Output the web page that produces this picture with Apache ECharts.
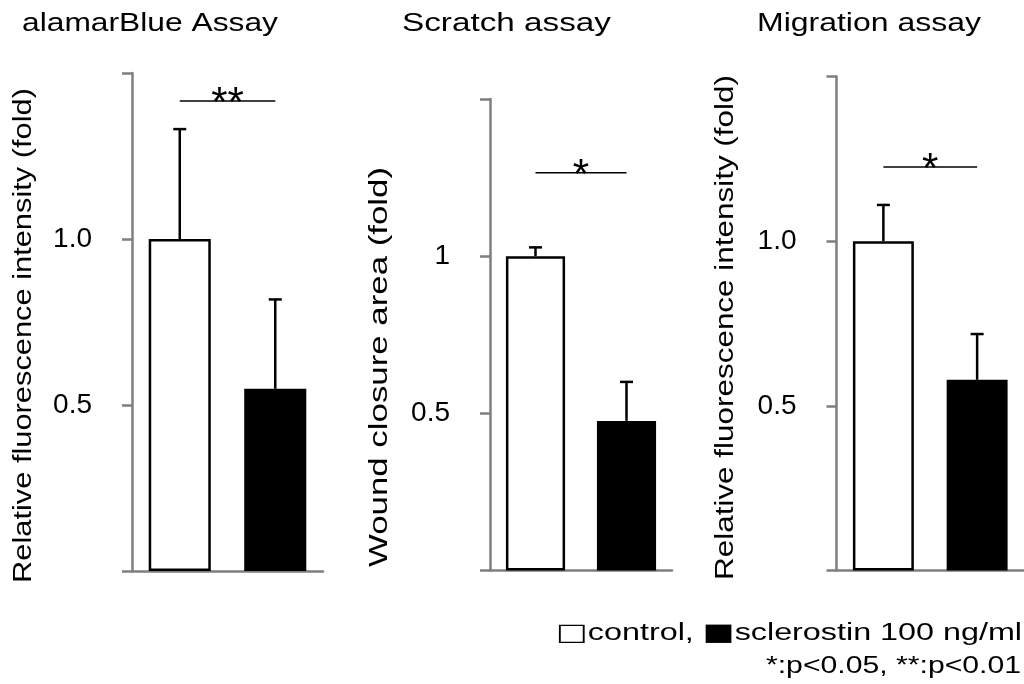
<!DOCTYPE html>
<html>
<head>
<meta charset="utf-8">
<script src="https://cdn.jsdelivr.net/npm/echarts@6/dist/echarts.min.js"></script>
<style>
html,body{margin:0;padding:0;background:#fff;}
#chart{width:1024px;height:684px;}
</style>
</head>
<body>
<div id="chart"></div>
<script>
// ---------------- data ----------------
const categories = ['control', 'sclerostin 100 ng/ml'];
const panelTitles = ['alamarBlue Assay', 'Scratch assay', 'Migration assay'];
const yAxisNames = ['Relative fluorescence intensity (fold)', 'Wound closure area (fold)', 'Relative fluorescence intensity (fold)'];
const controlMeans = [1.0, 1.0, 1.0];
const sclerostinMeans = [0.549, 0.476, 0.579];
const controlErr = [0.331, 0.028, 0.110];
const sclerostinErr = [0.269, 0.124, 0.139];
const sigLevels = [1.416, 1.265, 1.225];
const sigMarks = ['**', '*', '*'];
const yTickValues = [0, 0.5, 1.0, 1.5];
const yTickLabels = [['', '0.5', '1.0', ''], ['', '0.5', '1', ''], ['', '0.5', '1.0', '']];
const legendSymbols = ['\u25A1', '\u25A0'];
const legendNames = ['control, ', 'sclerostin 100 ng/ml'];
const pValueNote = '*:p<0.05, **:p<0.01';

// ---------------- layout / style ----------------
const FONT = "'Liberation Sans', Arial, 'Noto Sans CJK JP', sans-serif";
const SQ_FONT = "24px 'DejaVu Sans', 'Noto Sans CJK JP', sans-serif";
const AXIS_GRAY = '#7f7f7f';
const grids = [
  {left: 132, top: 73, width: 191, height: 498},
  {left: 490, top: 99, width: 182, height: 471.5},
  {left: 836.5, top: 76.5, width: 190.5, height: 494}
];
const titleLayout = [{x: 150, y: 24, len: 256}, {x: 506.5, y: 24, len: 209}, {x: 869, y: 24, len: 224}];
const nameLayout = [{x: 24, y: 335.5, len: 495}, {x: 380, y: 367, len: 400}, {x: 726, y: 327.5, len: 505}];
const legendLayout = [{x: 1022, y: 634, len: 466}, {x: 1021, y: 667, len: 255}];

const mctx = document.createElement('canvas').getContext('2d');
function measure(text, font) { mctx.font = font; return mctx.measureText(text).width; }

const chart = echarts.init(document.getElementById('chart'), null, {renderer: 'canvas'});

const xAxes = [], yAxes = [], series = [], graphics = [];
for (let i = 0; i < 3; i++) {
  xAxes.push({
    type: 'category', gridIndex: i, data: categories,
    axisLine: {show: true, lineStyle: {color: AXIS_GRAY, width: 2.5}},
    axisTick: {show: false}, axisLabel: {show: false}
  });
  yAxes.push({
    type: 'value', gridIndex: i, min: 0, max: 1.5, interval: 0.5,
    splitLine: {show: false},
    axisLine: {show: true, lineStyle: {color: AXIS_GRAY, width: 2.5}},
    axisTick: {show: true, length: 10, lineStyle: {color: AXIS_GRAY, width: 2.5}},
    axisLabel: {
      margin: 40, color: '#000', fontSize: 28, fontFamily: FONT,
      formatter: (v) => { const k = yTickValues.findIndex(t => Math.abs(t - v) < 1e-6); return k >= 0 ? yTickLabels[i][k] : ''; }
    }
  });
  series.push({
    type: 'bar', xAxisIndex: i, yAxisIndex: i, barWidth: '65%', silent: true, z: 2,
    data: [
      {value: controlMeans[i], itemStyle: {color: '#fff', borderColor: '#000', borderWidth: 2.5}},
      {value: sclerostinMeans[i], itemStyle: {color: '#000', borderColor: '#000', borderWidth: 0}}
    ]
  });
  series.push({
    type: 'custom', xAxisIndex: i, yAxisIndex: i, silent: true, z: 3,
    encode: {x: 0, y: [1, 2]},
    data: [[0, controlMeans[i], controlMeans[i] + controlErr[i]], [1, sclerostinMeans[i], sclerostinMeans[i] + sclerostinErr[i]]],
    renderItem: (params, api) => {
      const p0 = api.coord([api.value(0), api.value(1)]);
      const p1 = api.coord([api.value(0), api.value(2)]);
      return {type: 'group', children: [
        {type: 'line', shape: {x1: p0[0], y1: p0[1], x2: p1[0], y2: p1[1]}, style: {stroke: '#000', lineWidth: 2.5}},
        {type: 'line', shape: {x1: p1[0] - 6.5, y1: p1[1], x2: p1[0] + 6.5, y2: p1[1]}, style: {stroke: '#000', lineWidth: 2.5}}
      ]};
    }
  });
  series.push({
    type: 'custom', xAxisIndex: i, yAxisIndex: i, silent: true, z: 4,
    encode: {x: 0, y: 1},
    data: [[0, sigLevels[i], 1]],
    renderItem: (params, api) => {
      const p0 = api.coord([api.value(0), api.value(1)]);
      const p1 = api.coord([api.value(2), api.value(1)]);
      return {type: 'group', children: [
        {type: 'line', shape: {x1: p0[0], y1: p0[1], x2: p1[0], y2: p1[1]}, style: {stroke: '#000', lineWidth: 1.5}},
        {type: 'text', x: (p0[0] + p1[0]) / 2, y: p0[1] + 3.5,
          style: {text: sigMarks[i], font: "42px " + FONT, fill: '#000', align: 'center', verticalAlign: 'middle', textAlign: 'center', textVerticalAlign: 'middle'}}
      ]};
    }
  });

  const tFont = "26px " + FONT;
  const nFont = "25px " + FONT;
  graphics.push({type: 'text', x: titleLayout[i].x, y: titleLayout[i].y,
    scaleX: titleLayout[i].len / measure(panelTitles[i], tFont),
    style: {text: panelTitles[i], font: tFont, fill: '#000', align: 'center', verticalAlign: 'middle', textAlign: 'center', textVerticalAlign: 'middle'}});
  graphics.push({type: 'text', x: nameLayout[i].x, y: nameLayout[i].y, rotation: Math.PI / 2,
    scaleX: nameLayout[i].len / measure(yAxisNames[i], nFont),
    style: {text: yAxisNames[i], font: nFont, fill: '#000', align: 'center', verticalAlign: 'middle', textAlign: 'center', textVerticalAlign: 'middle'}});
}
const lFont = "23px " + FONT;
// legend line 1 (rich text: square symbols + names)
const legendRich = legendSymbols.map((s, k) => '{sq|' + s + '}' + legendNames[k]).join('');
const legendPlainW = legendSymbols.reduce((w, s, k) => w + measure(s, SQ_FONT) + measure(legendNames[k], lFont), 0);
graphics.push({type: 'text', x: legendLayout[0].x, y: legendLayout[0].y,
  scaleX: legendLayout[0].len / legendPlainW,
  style: {text: legendRich, font: lFont, fill: '#000', align: 'right', verticalAlign: 'middle', textAlign: 'right', textVerticalAlign: 'middle',
    rich: {sq: {font: SQ_FONT, fill: '#000', verticalAlign: 'middle'}}}});
graphics.push({type: 'text', x: legendLayout[1].x, y: legendLayout[1].y,
  scaleX: legendLayout[1].len / measure(pValueNote, lFont),
  style: {text: pValueNote, font: lFont, fill: '#000', align: 'right', verticalAlign: 'middle', textAlign: 'right', textVerticalAlign: 'middle'}});

chart.setOption({
  backgroundColor: '#fff',
  animation: false,
  grid: grids.map(g => Object.assign({containLabel: false}, g)),
  xAxis: xAxes,
  yAxis: yAxes,
  series: series,
  graphic: graphics
});
</script>
</body>
</html>
